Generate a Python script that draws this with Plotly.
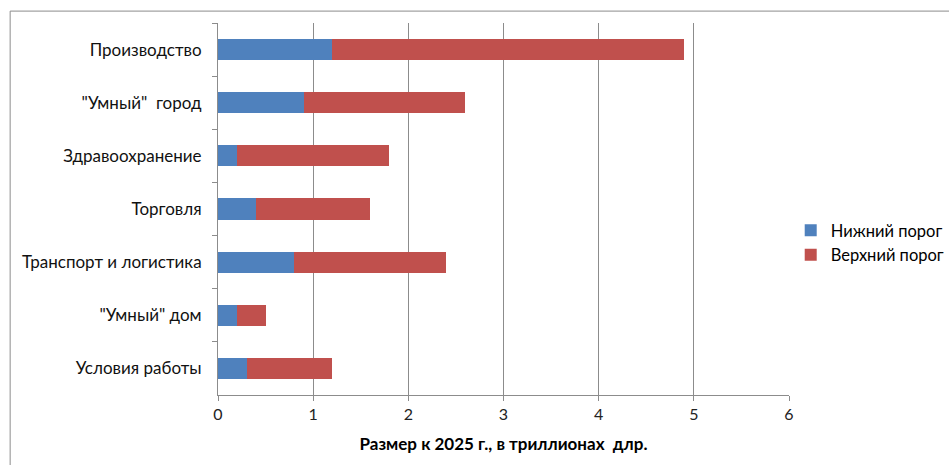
import plotly.graph_objects as go

categories = ["Производство", "\"Умный\"  город", "Здравоохранение", "Торговля",
              "Транспорт и логистика", "\"Умный\" дом", "Условия работы"]
lower = [1.2, 0.9, 0.2, 0.4, 0.8, 0.2, 0.3]
upper_extra = [3.7, 1.7, 1.6, 1.2, 1.6, 0.3, 0.9]
series_names = ["Нижний порог", "Верхний порог"]
x_ticks = [0, 1, 2, 3, 4, 5, 6]

FONT = "Lato, 'Open Sans', sans-serif"

fig = go.Figure()
fig.add_trace(go.Bar(y=categories, x=lower, orientation="h", name=series_names[0],
                     legendgroup="a",
                     marker=dict(color="#4F81BD", line=dict(width=0)), width=0.4))
fig.add_trace(go.Bar(y=categories, x=upper_extra, orientation="h", name=series_names[1],
                     legendgroup="b",
                     marker=dict(color="#C0504D", line=dict(width=0)), width=0.4))

fig.update_layout(
    barmode="stack",
    width=949, height=465,
    margin=dict(l=218, r=160, t=23, b=70, autoexpand=False),
    paper_bgcolor="white", plot_bgcolor="white",
    font=dict(family=FONT, color="#000000"),
    showlegend=True,
    legend=dict(x=1.003, y=0.41, xanchor="left", yanchor="middle",
                traceorder="normal", font=dict(size=16.5, family=FONT),
                itemwidth=30, tracegroupgap=8, bgcolor="rgba(0,0,0,0)"),
    xaxis=dict(range=[0, 6], tickvals=x_ticks, showgrid=True, gridcolor="#8C8C8C",
               gridwidth=1, showline=True, linecolor="#8C8C8C", linewidth=1,
               ticks="outside", ticklen=5, tickcolor="#8C8C8C",
               tickfont=dict(size=16, family=FONT, color="#222"),
               zeroline=False,
               title=dict(text="<b>Размер к 2025 г., в триллионах  длр.</b>",
                          font=dict(size=17, family=FONT), standoff=15)),
    yaxis=dict(categoryorder="array", categoryarray=categories, autorange="reversed",
               showline=True, linecolor="#8C8C8C", linewidth=1,
               ticks="outside", ticklen=5, tickcolor="#8C8C8C", tickson="boundaries",
               ticklabelstandoff=12,
               tickfont=dict(size=17, family=FONT, color="#111"), showgrid=False),
    shapes=[dict(type="rect", xref="paper", yref="paper",
                 x0=-0.364, x1=1.35, y0=-0.25, y1=1.032,
                 line=dict(color="#8C8C8C", width=1), fillcolor="rgba(0,0,0,0)",
                 layer="below")],
)

fig.write_html("out.html")
